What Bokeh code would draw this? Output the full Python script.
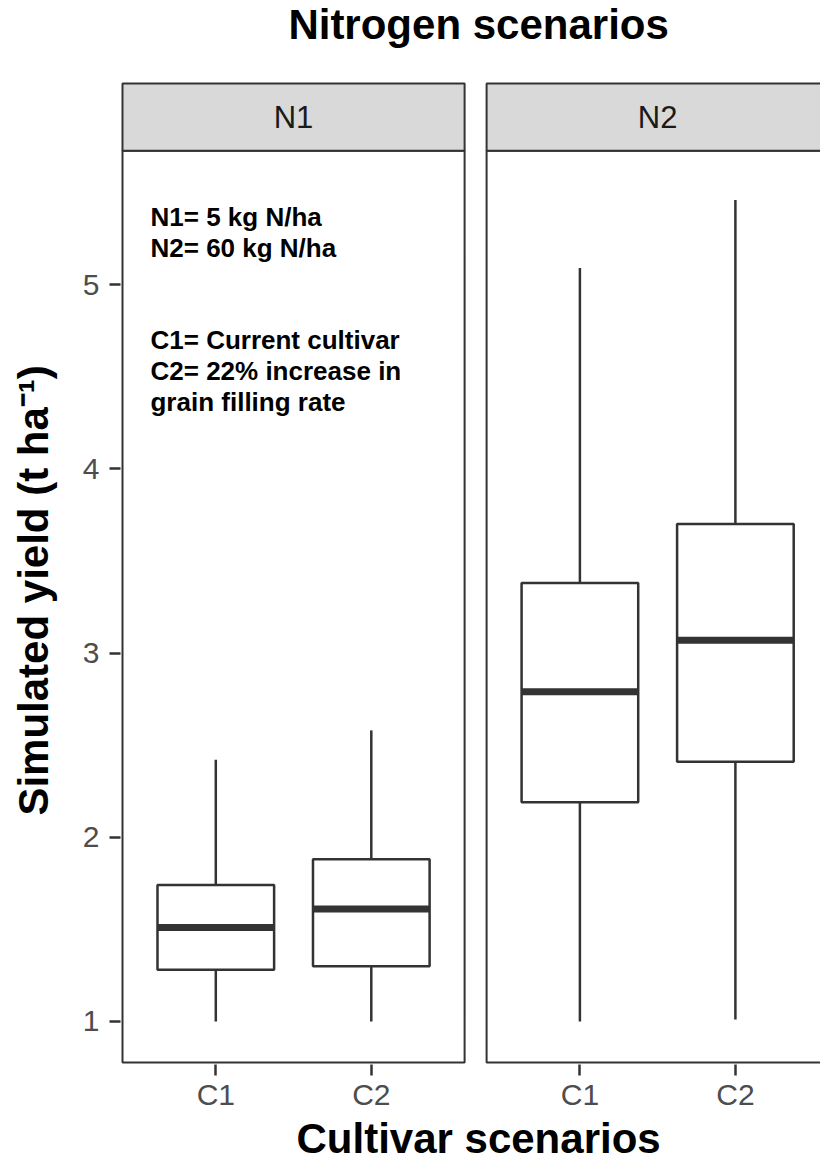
import math
from bokeh.plotting import figure
from bokeh.layouts import row
from bokeh.models import FixedTicker, Range1d, ColumnDataSource, Title
from bokeh.embed import file_html
from bokeh.resources import INLINE
from bokeh.core.properties import value

# ---------------- data ----------------
panels = ["N1", "N1", "N2", "N2"]
cultivars = ["C1", "C2", "C1", "C2"]
whisker_low = [1.00, 1.00, 1.00, 1.01]
q1 = [1.28, 1.30, 2.19, 2.41]
median = [1.51, 1.61, 2.79, 3.07]
q3 = [1.74, 1.88, 3.38, 3.70]
whisker_high = [2.42, 2.58, 5.09, 5.46]

panel_names = ["N1", "N2"]
cultivar_names = ["C1", "C2"]
y_ticks = [1, 2, 3, 4, 5]

title_text = "Nitrogen scenarios"
x_title = "Cultivar scenarios"
y_title = "Simulated yield (t ha\u207b\u00b9)"
note_text = ("N1= 5 kg N/ha\nN2= 60 kg N/ha\n\n\n"
             "C1= Current cultivar\nC2= 22% increase in\ngrain filling rate")
note_x, note_y = 0.58, 5.45
y_title_y = 3.34

# ---------------- geometry ----------------
FONT = "Liberation Sans"
DARK = "#333333"
TITLE_SIZE = 42
W, H = 820, 1164
LEFT_W = 78            # width of the y-title figure
PX_X = 155.5           # px per category unit
PX_Y = 184.2           # px per yield unit
PAD = 0.6              # discrete expansion
BOX_W = 0.75
GAP = 22 / PX_X        # gap between panels in x units
EXT = 2.0              # px of frame beyond panel borders
panel_lo, panel_hi = 0.777, 5.727
strip_h = 67.3 / PX_Y

panel_span = (len(cultivar_names) - 1) + 2 * PAD
offsets = {name: j * (panel_span + GAP) for j, name in enumerate(panel_names)}

main_w = W - LEFT_W
border_left = 120 - LEFT_W
border_bottom = 100
frame_w = main_w - border_left
frame_h = H - border_bottom

x_start = 1 - PAD - EXT / PX_X
x_end = x_start + frame_w / PX_X
y_start = panel_lo - EXT / PX_Y
y_end = y_start + frame_h / PX_Y

xs = [cultivar_names.index(c) + 1 + offsets[p] for p, c in zip(panels, cultivars)]

src = ColumnDataSource(dict(
    x=xs, low=whisker_low, q1=q1, med=median, q3=q3, high=whisker_high,
    x0=[x - BOX_W / 2 for x in xs], x1=[x + BOX_W / 2 for x in xs],
))

p = figure(width=main_w, height=H, output_backend="svg", toolbar_location=None,
           x_range=Range1d(x_start, x_end), y_range=Range1d(y_start, y_end),
           min_border_left=border_left, min_border_right=0,
           min_border_top=0, min_border_bottom=border_bottom)
p.outline_line_color = None
p.grid.visible = False
p.background_fill_color = "white"
p.border_fill_color = "white"

# panels and strips
pl = [offsets[n] + 1 - PAD for n in panel_names]
pr = [offsets[n] + len(cultivar_names) + PAD for n in panel_names]
p.quad(left=pl, right=pr, bottom=[panel_lo] * 2, top=[panel_hi] * 2,
       fill_color="white", line_color=DARK, line_width=2)
p.quad(left=pl, right=pr, bottom=[panel_hi] * 2, top=[panel_hi + strip_h] * 2,
       fill_color="#D9D9D9", line_color=DARK, line_width=2)
p.text(x=[offsets[n] + (len(cultivar_names) + 1) / 2 for n in panel_names],
       y=[panel_hi + strip_h / 2] * 2, text=panel_names,
       text_font=value(FONT), text_font_size="31px", text_color="#1A1A1A",
       text_align="center", text_baseline="middle")

# boxplots
p.segment(x0="x", y0="low", x1="x", y1="q1", source=src, line_color=DARK, line_width=2.5)
p.segment(x0="x", y0="q3", x1="x", y1="high", source=src, line_color=DARK, line_width=2.5)
p.vbar(x="x", width=BOX_W, bottom="q1", top="q3", source=src,
       fill_color="white", line_color=DARK, line_width=2.5)
p.segment(x0="x0", y0="med", x1="x1", y1="med", source=src, line_color=DARK, line_width=7)

# note
p.text(x=[note_x], y=[note_y], text=[note_text], text_font=value(FONT),
       text_font_size="26px", text_font_style="bold", text_color="black",
       text_align="left", text_baseline="top", text_line_height=1.03)

# main title (inside the frame, above the strips)
mid_x = (pl[0] + pr[-1]) / 2 + 3 / PX_X
p.text(x=[mid_x], y=[y_end - 0.5 / PX_Y], text=[title_text],
       text_font=value(FONT), text_font_size=f"{TITLE_SIZE}px", text_font_style="bold",
       text_color="black", text_align="center", text_baseline="top")

# axes
xt = [cultivar_names.index(c) + 1 + offsets[pn] for pn in panel_names for c in cultivar_names]
p.xaxis.ticker = FixedTicker(ticks=xt)
p.xaxis.major_label_overrides = {t: c for t, c in zip(xt, cultivar_names * len(panel_names))}
p.yaxis.ticker = FixedTicker(ticks=y_ticks)
for ax in (p.xaxis[0], p.yaxis[0]):
    ax.axis_line_color = None
    ax.major_tick_line_color = DARK
    ax.major_tick_line_width = 2.5
    ax.major_tick_out = 11
    ax.major_tick_in = 0
    ax.minor_tick_line_color = None
    ax.major_label_text_font = FONT
    ax.major_label_text_font_size = "30px"
    ax.major_label_text_color = "#4D4D4D"
p.xaxis.major_label_standoff = 2
p.yaxis.major_label_standoff = 10

# x title below the axis
x_title_w = 8.670 * TITLE_SIZE
p.add_layout(Title(text=x_title, align="left", offset=round(478 - x_title_w / 2 - 120),
                   vertical_align="top", standoff=2, text_font=FONT,
                   text_font_size=f"{TITLE_SIZE}px", text_font_style="bold",
                   text_color="black"),
             "below")

# y title in a narrow figure on the left, sharing the vertical scale
q = figure(width=LEFT_W, height=H, output_backend="svg", toolbar_location=None,
           x_range=Range1d(0, LEFT_W), y_range=p.y_range,
           x_axis_type=None, y_axis_type=None,
           min_border_left=0, min_border_right=0, min_border_top=0,
           min_border_bottom=border_bottom)
q.outline_line_color = None
q.grid.visible = False
q.background_fill_color = "white"
q.border_fill_color = "white"
q.text(x=[9.6], y=[y_title_y], text=[y_title], angle=math.pi / 2,
       text_font=value(FONT), text_font_size=f"{TITLE_SIZE}px", text_font_style="bold",
       text_color="black", text_align="center", text_baseline="top")

layout = row(q, p)
open("out.html", "w").write(file_html(layout, INLINE))
